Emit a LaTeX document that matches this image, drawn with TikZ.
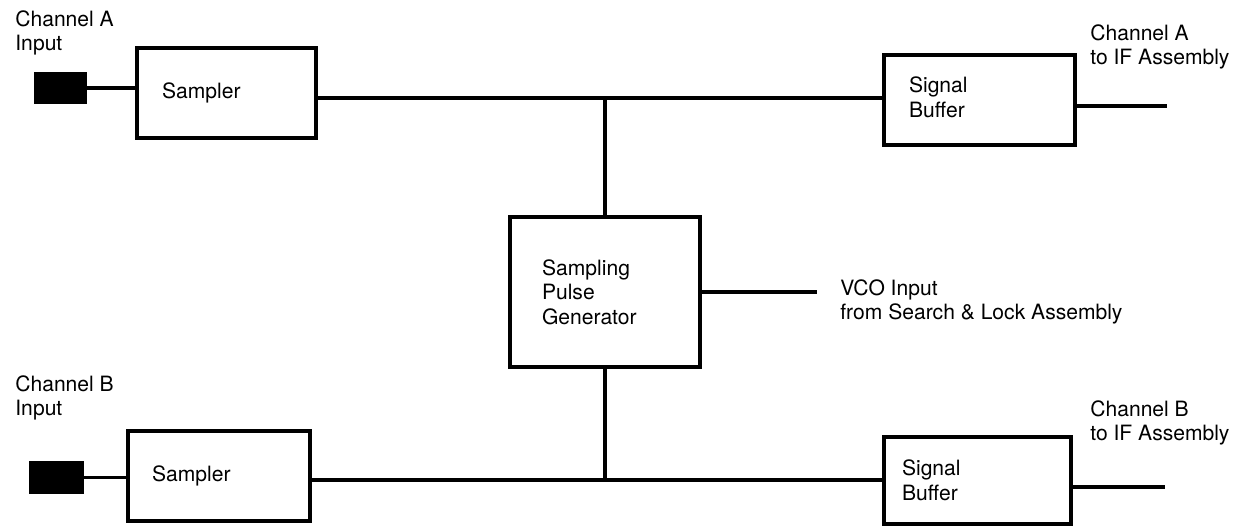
\documentclass[tikz,border=0pt]{standalone}
\usepackage{fontspec}
\setmainfont{TeX Gyre Heros}
\usepackage{tikz}
\usetikzlibrary{positioning}
\tikzset{
  block/.style={
    draw,
    line width=2.2pt,
    align=left,
    inner ysep=0pt,
    font=\fontsize{12}{14}\selectfont
  },
  jack/.style={
    draw,
    fill=black,
    line width=0.8pt,
    inner sep=0pt
  },
  lbl/.style={
    anchor=north west,
    align=left,
    inner sep=0pt,
    font=\fontsize{12}{14}\selectfont
  },
  wire/.style={line width=1.8pt}
}

\begin{document}
\begin{tikzpicture}[x=0.02cm, y=-0.02cm]
  \useasboundingbox (0,0) rectangle (1238,526);

  \node[jack, minimum width=1.02cm, minimum height=0.60cm] (jackA) at (60.5,88) {};
  \node[jack, minimum width=1.06cm, minimum height=0.62cm] (jackB) at (56.5,477.5) {};

  \node[block, minimum height=1.80cm, text width=2.58cm, inner xsep=0.5cm] (sampA) at (226.5,93) {Sampler};
  \node[block, minimum height=1.80cm, text width=2.68cm, inner xsep=0.48cm] (sampB) at (219,476) {Sampler};

  \node[block, minimum height=3.00cm, text width=2.52cm, inner xsep=0.64cm] (spg) at (605,292) {Sampling\\Pulse\\Generator};

  \node[block, minimum height=1.80cm, text width=2.82cm, inner xsep=0.5cm] (bufA) at (979.5,100)
    {\raisebox{0.16cm}{\begin{tabular}{@{}l@{}}Signal\\Buffer\end{tabular}}};
  \node[block, minimum height=1.74cm, text width=3.02cm, inner xsep=0.36cm] (bufB) at (977.5,480.5) {Signal\\Buffer};

  \node[lbl] (inA) at (15,10) {Channel A\\Input};
  \node[lbl] (inB) at (15,375) {Channel B\\Input};
  \node[lbl] (outAtxt) at (1090,24) {Channel A\\to IF Assembly};
  \node[lbl] (outBtxt) at (1090,400) {Channel B\\to IF Assembly};
  \node[lbl] (vcotxt) at (840,279) {VCO Input\\from Search \& Lock Assembly};

  \coordinate (busA) at (0,98);
  \coordinate (busB) at (0,480);
  \coordinate (outA) at (1167,106);
  \coordinate (outB) at (1165,487);
  \coordinate (vco) at (817,292);

  \draw[wire] (jackA.east) -- (jackA.east -| sampA.west);
  \draw[wire] (jackB.east) -- (jackB.east -| sampB.west);
  \draw[wire] (sampA.east |- busA) -- (bufA.west |- busA);
  \draw[wire] (sampB.east |- busB) -- (bufB.west |- busB);
  \draw[wire] (spg.north) -- (spg.north |- busA);
  \draw[wire] (spg.south) -- (spg.south |- busB);
  \draw[wire] (spg.east) -- (vco);
  \draw[wire] (bufA.east |- outA) -- (outA);
  \draw[wire] (bufB.east |- outB) -- (outB);
\end{tikzpicture}
\end{document}
